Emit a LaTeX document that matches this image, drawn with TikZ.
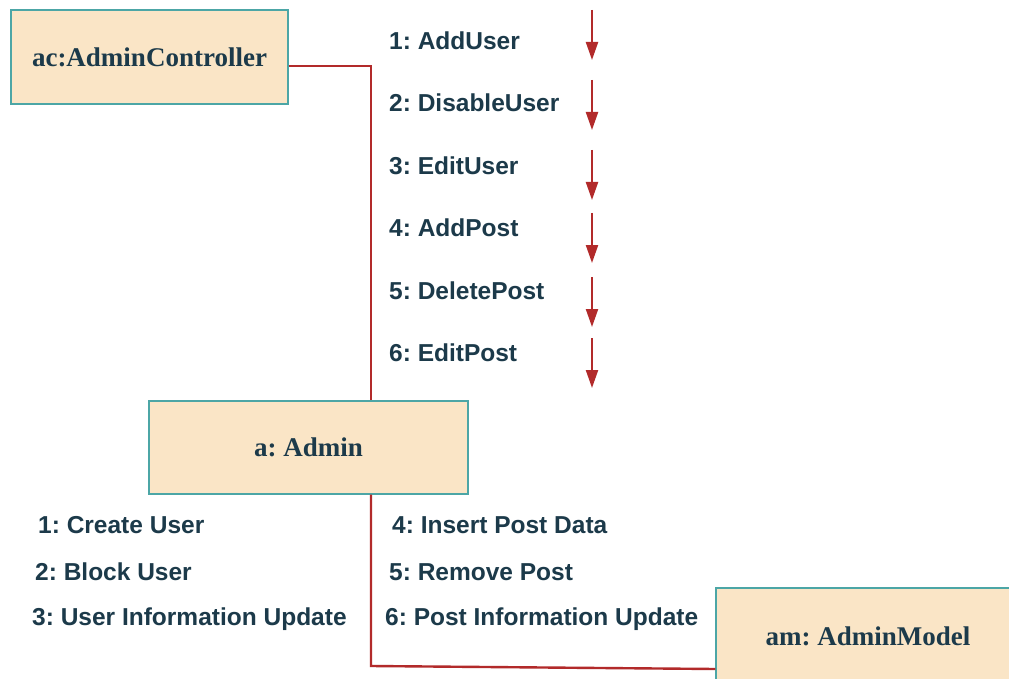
\documentclass[tikz,border=0pt]{standalone}
\usepackage{fontspec}
\setmainfont{Liberation Serif}
\setsansfont{Liberation Sans}
\usetikzlibrary{arrows.meta}
\frenchspacing
\definecolor{boxfill}{HTML}{FAE5C6}
\definecolor{boxline}{HTML}{4CA6A6}
\definecolor{linkred}{HTML}{B22A2A}
\definecolor{txt}{HTML}{1C3A4A}
\tikzset{
  obj/.style={draw=boxline, line width=1.3pt, fill=boxfill, inner sep=0pt,
    font=\rmfamily\bfseries\fontsize{27}{32}\selectfont, text=txt},
  msg/.style={anchor=west, inner sep=0pt, font=\sffamily\bfseries\fontsize{24.5}{29}\selectfont, text=txt},
  link/.style={draw=linkred, line width=2.4pt},
  flow/.style={draw=linkred, line width=2.2pt, -{Triangle[length=18pt,width=12pt]}}
}
\begin{document}
\begin{tikzpicture}[x=1pt,y=-1pt]
\frenchspacing
\useasboundingbox (0,0) rectangle (1009,679);
\clip (0,0) rectangle (1009,679);
\fill[white] (0,0) rectangle (1009,679);
% objects
\node[obj, minimum width=277pt, minimum height=94pt] (ac) at (149.5,57) {ac:AdminController};
\node[obj, minimum width=319pt, minimum height=93pt] (a) at (308.5,447.5) {a: Admin};
\node[obj, minimum width=304pt, minimum height=96pt] (am) at (868,636) {am: AdminModel};
% connectors
\coordinate (b1) at (371,66);
\coordinate (b2) at (371,666);
\coordinate (b3) at (716,669);
\draw[link] (ac.east |- b1) -- (b1) -- (a.north -| b1);
\draw[link] (a.south -| b2) -- (b2) -- (am.west |- b3);
% upper messages
\node[msg] (m1) at (389,41) {1: AddUser};
\node[msg] (m2) at (389,103) {2: DisableUser};
\node[msg] (m3) at (389,166) {3: EditUser};
\node[msg] (m4) at (389,228) {4: AddPost};
\node[msg] (m5) at (389,291) {5: DeletePost};
\node[msg] (m6) at (389,353) {6: EditPost};
% arrows
\foreach \i/\ys/\ye in {1/10/60, 2/80/130, 3/150/200, 4/213/263, 5/277/327, 6/338/388}{
  \coordinate (s\i) at (592,\ys);
  \coordinate (e\i) at (592,\ye);
  \draw[flow] (s\i) -- (e\i);
}
% lower messages
\node[msg] (l1) at (38,525) {1: Create User};
\node[msg] (l2) at (35,572) {2: Block User};
\node[msg] (l3) at (32,619) {3: User Information Update};
\node[msg] (r1) at (392,525) {4: Insert Post Data};
\node[msg] (r2) at (389,572) {5: Remove Post};
\node[msg] (r3) at (385,619) {6: Post Information Update};
\end{tikzpicture}
\end{document}
